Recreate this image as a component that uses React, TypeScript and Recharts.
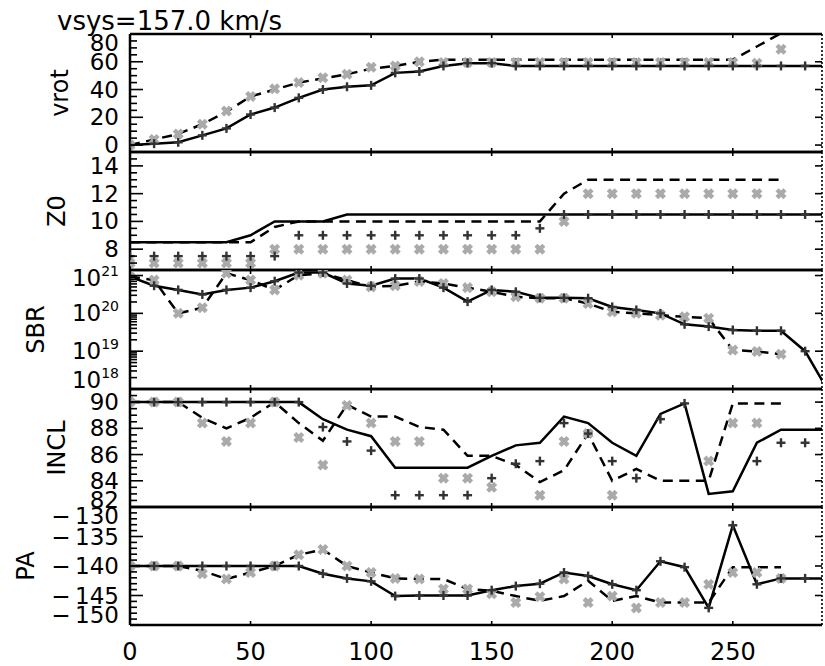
import React from 'react';
import { ComposedChart, Line, XAxis, YAxis } from 'recharts';

const FONT = '"DejaVu Sans", sans-serif';

// radii (x positions), shared by every panel
const radius = [0, 10, 20, 30, 40, 50, 60, 70, 80, 90, 100, 110, 120, 130, 140, 150, 160, 170, 180, 190, 200, 210, 220, 230, 240, 250, 260, 270, 280, 290];
const xTicks = [0, 50, 100, 150, 200, 250];

// vrot
const vrotLine = [0, 1, 2, 7, 12, 22, 27, 34, 40, 42, 43, 52, 53, 57, 59, 59, 57, 57, 57, 57, 57, 57, 57, 57, 57, 57, 57, 57, 57, 57];
const vrotPlus = [0, 1, 2, 7, 12, 22, 27, 34, 40, 42, 43, 52, 53, 57, 59, 59, 57, 57, 57, 57, 57, 57, 57, 57, 57, 57, 57, 57, 57, null];
const vrotDash = [0, 4, 8, 15, 24, 35, 40, 45, 48, 51, 55, 57, 60, 61.5, 61.5, 61.5, 61.5, 61.5, 61.5, 61.5, 61.5, 61.5, 61.5, 61.5, 61.5, 61.5, 71, 80.5, null, null];
const vrotGray = [0, 4, 8, 15, 24.5, 35, 40.5, 45, 48.5, 51, 56, 57, 60, 59.5, 59.5, 59.5, 59.5, 59.5, 59.5, 59.5, 59.5, 59.5, 59.5, 59.5, 59.5, 59.5, 59, 69, null, null];

// Z0
const z0Line = [8.5, 8.5, 8.5, 8.5, 8.5, 9, 10, 10, 10, 10.5, 10.5, 10.5, 10.5, 10.5, 10.5, 10.5, 10.5, 10.5, 10.5, 10.5, 10.5, 10.5, 10.5, 10.5, 10.5, 10.5, 10.5, 10.5, 10.5, 10.5];
const z0Plus = [7.5, 7.5, 7.5, 7.5, 7.5, 7.5, 7.5, 9, 9, 9, 9, 9, 9, 9, 9, 9, 9, 9.5, 10.5, 10.5, 10.5, 10.5, 10.5, 10.5, 10.5, 10.5, 10.5, 10.5, 10.5, null];
const z0Dash = [8.5, 8.5, 8.5, 8.5, 8.5, 8.5, 9.6, 10, 10, 10, 10, 10, 10, 10, 10, 10, 10, 10, 12, 13, 13, 13, 13, 13, 13, 13, 13, 13, null, null];
const z0Gray = [7, 7, 7, 7, 7, 7, 8, 8, 8, 8, 8, 8, 8, 8, 8, 8, 8, 8, 10, 12, 12, 12, 12, 12, 12, 12, 12, 12, null, null];

// SBR (log10 of the value)
const sbrLineLog = [20.97, 20.73, 20.62, 20.5, 20.62, 20.68, 20.85, 21.08, 21.08, 20.79, 20.73, 20.92, 20.92, 20.68, 20.31, 20.62, 20.57, 20.41, 20.41, 20.4, 20.17, 20.09, 20.0, 19.71, 19.65, 19.56, 19.54, 19.54, 19.0, 17.9];
const sbrPlusLog = [20.97, 20.73, 20.62, 20.5, 20.62, 20.68, 20.85, 21.08, 21.08, 20.79, 20.73, 20.92, 20.92, 20.68, 20.31, 20.62, 20.57, 20.41, 20.41, 20.4, 20.17, 20.09, 20.0, 19.71, 19.65, 19.56, 19.54, 19.54, 19.0, null];
const sbrDashLog = [20.97, 20.88, 20.0, 20.15, 21.06, 20.88, 20.62, 21.01, 21.06, 20.88, 20.7, 20.73, 20.84, 20.79, 20.68, 20.57, 20.44, 20.4, 20.4, 20.26, 20.04, 20.0, 19.95, 19.91, 19.87, 19.03, 18.99, 18.92, null, null];
const sbrGrayLog = [20.97, 20.88, 20.0, 20.15, 21.06, 20.88, 20.62, 21.01, 21.06, 20.88, 20.7, 20.73, 20.84, 20.79, 20.68, 20.57, 20.44, 20.4, 20.4, 20.26, 20.04, 20.0, 19.95, 19.91, 19.87, 19.03, 18.99, 18.92, null, null];

// INCL
const inclLine = [90, 90, 90, 90, 90, 90, 90, 90, 88.7, 87.9, 87.4, 85, 85, 85, 85, 85.9, 86.7, 86.9, 88.9, 88.4, 86.9, 85.9, 89.1, 89.9, 83.0, 83.2, 86.9, 87.9, 87.9, 87.9];
const inclPlus = [90, 90, 90, 90, 90, 90, 90, 90, 88.1, 87.0, 86.3, 82.9, 82.9, 82.9, 82.9, 84.2, 85.3, 85.5, 88.4, 87.6, 85.5, 84.2, 88.7, 89.9, null, null, 85.5, 86.9, 86.9, null];
const inclDash = [90, 90, 90, 88.8, 88.0, 88.8, 90, 88.4, 87.05, 89.8, 88.9, 88.9, 88.1, 87.9, 85.9, 85.9, 85.2, 83.9, 84.8, 87.6, 84.0, 84.9, 84.0, 84.0, 84.0, 89.9, 89.9, 89.9, null, null];
const inclGray = [90, 90, 90, 88.4, 87.0, 88.4, 90, 87.3, 85.2, 89.75, 88.4, 87.0, 87.0, 84.2, 84.2, 83.5, null, 82.9, 87.0, 87.6, 82.9, null, null, null, 85.5, 88.4, 88.4, null, null, null];

// PA
const paLine = [-140, -140, -140, -140, -140, -140, -140, -140, -141.3, -142.1, -142.6, -145.1, -145, -145, -145, -144.1, -143.4, -143.0, -141.1, -141.7, -143.1, -144.1, -139.2, -140.2, -147.1, -133.1, -143.1, -142.1, -142.1, -142.1];
const paPlus = [-140, -140, -140, -140, -140, -140, -140, -140, -141.3, -142.1, -142.6, -145.1, -145, -145, -145, -144.1, -143.4, -143.0, -141.1, -141.7, -143.1, -144.1, -139.2, -140.2, -147.1, -133.1, -143.1, -142.1, -142.1, null];
const paDash = [-140, -140, -140, -140.8, -142.2, -141.1, -140, -138.1, -137.2, -140, -141.1, -142.1, -142.2, -142.2, -143.9, -144.2, -145.1, -145.9, -145.1, -142.5, -145.9, -145.1, -146.2, -146.2, -146.2, -140.2, -140.2, -140.2, null, null];
const paGray = [-140, -140, -140, -141.3, -142.2, -141.1, -140, -138.1, -137.2, -140, -141.1, -142.1, -142.2, -143.9, -143.9, -144.7, -146.2, -145.2, -142.2, -146.2, -145.1, -147.1, -146.2, -146.2, -143.1, -141.1, -141.1, -142.1, null, null];

const steps = (from: number, to: number, step: number) => {
  const out: number[] = [];
  for (let v = from; v <= to + 1e-9; v += step) out.push(Math.round(v * 1000) / 1000);
  return out;
};
const logTicks = (lo: number, hi: number) => {
  const out: number[] = [];
  for (let e = lo; e <= hi; e++) for (let k = 1; k <= 9; k++) out.push(k * Math.pow(10, e));
  return out;
};
const pow10 = (arr: (number | null)[]) => arr.map((e) => (e == null ? null : Math.pow(10, e)));

const panels = [
  {
    name: 'vrot', top: 34, height: 118, titleX: 60, domain: [-5, 80], log: false,
    major: [0, 20, 40, 60, 80], minor: steps(-5, 80, 5), shifts: [[80, 9]],
    line: vrotLine, plus: vrotPlus, dash: vrotDash, gray: vrotGray,
    fmt: (v: number) => String(v),
  },
  {
    name: 'Z0', top: 152, height: 118, titleX: 57, domain: [6.5, 15], log: false,
    major: [8, 10, 12, 14], minor: steps(6.5, 15, 0.5), shifts: [],
    line: z0Line, plus: z0Plus, dash: z0Dash, gray: z0Gray,
    fmt: (v: number) => String(v),
  },
  {
    name: 'SBR', top: 270, height: 119, titleX: 36, domain: [1e18, 1.4e21], log: true,
    major: [1e18, 1e19, 1e20, 1e21], minor: logTicks(18, 20), shifts: [[1e18, -9], [1e21, 2]],
    line: pow10(sbrLineLog), plus: pow10(sbrPlusLog), dash: pow10(sbrDashLog), gray: pow10(sbrGrayLog),
    fmt: (v: number) => (
      <>
        10<tspan dy={-10} fontSize={14}>{Math.round(Math.log10(v))}</tspan>
      </>
    ),
  },
  {
    name: 'INCL', top: 389, height: 118, titleX: 57, domain: [82, 91], log: false,
    major: [82, 84, 86, 88, 90], minor: steps(82, 91, 0.5), shifts: [[82, -7]],
    line: inclLine, plus: inclPlus, dash: inclDash, gray: inclGray,
    fmt: (v: number) => String(v),
  },
  {
    name: 'PA', top: 507, height: 118, titleX: 26, domain: [-150, -130], log: false,
    major: [-150, -145, -140, -135, -130], minor: steps(-150, -130, 1), shifts: [[-130, 9], [-150, -10]],
    line: paLine, plus: paPlus, dash: paDash, gray: paGray,
    fmt: (v: number) => `\u2212\u2009${Math.abs(v)}`,
  },
];

const same = (a: number, b: number) => Math.abs(a - b) <= Math.abs(b) * 1e-6 + 1e-9;

const plusMark = (props: any) => {
  const { cx, cy, index } = props;
  if (cx == null || cy == null || Number.isNaN(cy)) return <g key={`p${index}`} />;
  return (
    <g key={`p${index}`} stroke="#333333" strokeWidth={2.4}>
      <line x1={cx - 4.5} y1={cy} x2={cx + 4.5} y2={cy} />
      <line x1={cx} y1={cy - 4.5} x2={cx} y2={cy + 4.5} />
    </g>
  );
};

const grayMark = (props: any) => {
  const { cx, cy, index } = props;
  if (cx == null || cy == null || Number.isNaN(cy)) return <g key={`g${index}`} />;
  return (
    <g key={`g${index}`} stroke="#aaaaaa" strokeWidth={4.4} strokeLinecap="square">
      <line x1={cx - 2.4} y1={cy - 2.4} x2={cx + 2.4} y2={cy + 2.4} />
      <line x1={cx - 2.4} y1={cy + 2.4} x2={cx + 2.4} y2={cy - 2.4} />
    </g>
  );
};

const LeftTick = (props: any) => {
  const { x, y, payload, cfg } = props;
  const v = payload.value;
  const major = cfg.major.some((m: number) => same(v, m));
  const s = cfg.shifts.find((p: number[]) => same(v, p[0]));
  const dy = s ? s[1] : 0;
  return (
    <g>
      <line x1={x} y1={y} x2={x + (major ? 13 : 7)} y2={y} stroke="#000" strokeWidth={1.6} />
      {major && (
        <text x={x - 11} y={y + 8 + dy} textAnchor="end" fontSize={23} fontFamily={FONT} fill="#000">
          {cfg.fmt(v)}
        </text>
      )}
    </g>
  );
};

const RightTick = (props: any) => {
  const { x, y } = props;
  return <line x1={x} y1={y} x2={x - 7} y2={y} stroke="#000" strokeWidth={1.6} />;
};

const BottomTick = (props: any) => {
  const { x, y, payload, showLabel } = props;
  return (
    <g>
      <line x1={x} y1={y} x2={x} y2={y - 4} stroke="#000" strokeWidth={1.6} />
      {showLabel && (
        <text x={x} y={y + 35} textAnchor="middle" fontSize={24} fontFamily={FONT} fill="#000">
          {payload.value}
        </text>
      )}
    </g>
  );
};

const TopTick = (props: any) => {
  const { x, y } = props;
  return <line x1={x} y1={y} x2={x} y2={y + 4} stroke="#000" strokeWidth={1.6} />;
};

const AxisTitle = (props: any) => {
  const { viewBox, text, cx, fallbackY } = props;
  const cy = viewBox && viewBox.height ? viewBox.y + viewBox.height / 2 : fallbackY;
  return (
    <text
      x={cx}
      y={cy}
      transform={`rotate(-90, ${cx}, ${cy})`}
      textAnchor="middle"
      dominantBaseline="central"
      fontSize={24}
      fontFamily={FONT}
      fill="#000"
    >
      {text}
    </text>
  );
};

const axisStroke = { stroke: '#000', strokeWidth: 2.5 };

function Panel({ cfg, last }: { cfg: any; last: boolean }) {
  const data = radius.map((r, i) => ({
    r,
    line: cfg.line[i],
    plus: cfg.plus[i],
    dash: cfg.dash[i],
    gray: cfg.gray[i],
  }));
  const bottomExtra = last ? 40 : 0;
  // top and bottom x axes each take 1px of the chart height
  const chartH = cfg.height + 2 + bottomExtra;
  const allTicks = [...cfg.minor.filter((m: number) => !cfg.major.some((M: number) => same(m, M))), ...cfg.major];
  return (
    <div style={{ position: 'absolute', left: 0, top: cfg.top - 1, width: 825, height: chartH }}>
      <ComposedChart
        width={825}
        height={chartH}
        data={data}
        margin={{ top: 0, right: 0, bottom: bottomExtra, left: 0 }}
      >
        <XAxis
          dataKey="r"
          type="number"
          domain={[0, 287]}
          allowDataOverflow
          ticks={xTicks}
          interval={0}
          height={1}
          tickSize={0}
          tickMargin={0}
          axisLine={axisStroke}
          tickLine={false}
          tick={(p: any) => <BottomTick {...p} showLabel={last} />}
        />
        <XAxis
          xAxisId="top"
          orientation="top"
          dataKey="r"
          type="number"
          domain={[0, 287]}
          allowDataOverflow
          ticks={xTicks}
          interval={0}
          height={1}
          tickSize={0}
          tickMargin={0}
          axisLine={axisStroke}
          tickLine={false}
          tick={(p: any) => <TopTick {...p} />}
        />
        <YAxis
          type="number"
          scale={cfg.log ? 'log' : 'auto'}
          domain={cfg.domain}
          allowDataOverflow
          ticks={allTicks}
          interval={0}
          width={130}
          tickSize={0}
          tickMargin={0}
          axisLine={axisStroke}
          tickLine={false}
          tick={(p: any) => <LeftTick {...p} cfg={cfg} />}
          label={<AxisTitle text={cfg.name} cx={cfg.titleX} fallbackY={cfg.height / 2} />}
        />
        <YAxis
          yAxisId="right"
          orientation="right"
          type="number"
          scale={cfg.log ? 'log' : 'auto'}
          domain={cfg.domain}
          allowDataOverflow
          ticks={cfg.major}
          interval={0}
          width={3}
          tickSize={0}
          tickMargin={0}
          axisLine={{ stroke: '#000', strokeWidth: 1.6, strokeDasharray: '2 2' }}
          tickLine={false}
          tick={(p: any) => <RightTick {...p} />}
        />
        <Line dataKey="gray" stroke="none" dot={grayMark} activeDot={false} isAnimationActive={false} legendType="none" />
        <Line
          dataKey="dash"
          stroke="#000"
          strokeWidth={2.5}
          strokeDasharray="10 6.5"
          dot={false}
          activeDot={false}
          isAnimationActive={false}
          legendType="none"
        />
        <Line dataKey="line" stroke="#000" strokeWidth={2.5} dot={false} activeDot={false} isAnimationActive={false} legendType="none" />
        <Line dataKey="plus" stroke="none" dot={plusMark} activeDot={false} isAnimationActive={false} legendType="none" />
      </ComposedChart>
    </div>
  );
}

export default function App() {
  return (
    <div style={{ position: 'absolute', left: 0, top: 0, width: 825, height: 666, background: '#fff', fontFamily: FONT }}>
      <style>{'.recharts-surface { overflow: visible; }'}</style>
      <svg width={825} height={40} style={{ position: 'absolute', left: 0, top: 0 }}>
        <text x={57} y={30} fontSize={26} fontFamily={FONT} fill="#000">
          vsys=157.0 km/s
        </text>
      </svg>
      {panels.map((cfg, i) => (
        <Panel key={cfg.name} cfg={cfg} last={i === panels.length - 1} />
      ))}
    </div>
  );
}
